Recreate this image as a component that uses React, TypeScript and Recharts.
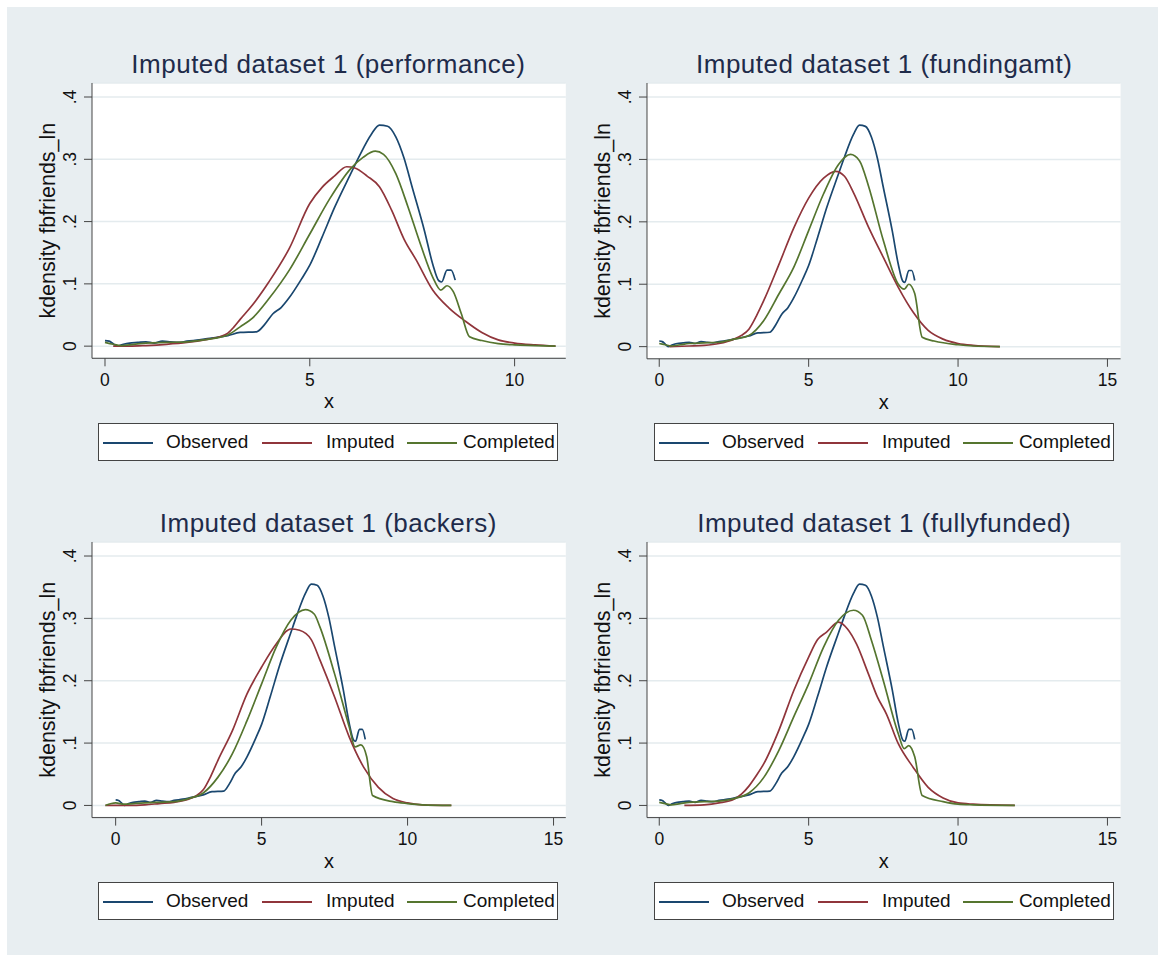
import { LineChart, Line, XAxis, YAxis, CartesianGrid } from "recharts";

const FONT = '"Liberation Sans", Arial, Helvetica, sans-serif';
const BLUE = "#1a476f";
const RED = "#90353b";
const GREEN = "#55752f";

// ---- data ----
const seriesNames = ["Observed", "Imputed", "Completed"];
const yTicks = [0, 0.1, 0.2, 0.3, 0.4];
const xTicksShort = [0, 5, 10];
const xTicksLong = [0, 5, 10, 15];
const panelTitles = [
  "Imputed dataset 1 (performance)",
  "Imputed dataset 1 (fundingamt)",
  "Imputed dataset 1 (backers)",
  "Imputed dataset 1 (fullyfunded)",
];

const observed = [
  [0, 0.009], [0.1, 0.008], [0.2, 0.004], [0.3, 0.0], [0.45, 0.003], [0.6, 0.005],
  [0.8, 0.006], [1.0, 0.007], [1.2, 0.005], [1.4, 0.008], [1.6, 0.007], [1.8, 0.006],
  [2.0, 0.008], [2.3, 0.01], [2.6, 0.013], [3.0, 0.017], [3.3, 0.022], [3.7, 0.023],
  [3.9, 0.035], [4.1, 0.052], [4.3, 0.062], [4.5, 0.078], [4.8, 0.108], [5.0, 0.13],
  [5.3, 0.175], [5.6, 0.222], [6.0, 0.277], [6.2, 0.304], [6.5, 0.34], [6.7, 0.355],
  [6.9, 0.353], [7.1, 0.336], [7.3, 0.302], [7.5, 0.255], [7.8, 0.185], [8.0, 0.132],
  [8.15, 0.105], [8.22, 0.103], [8.35, 0.122], [8.45, 0.122], [8.55, 0.106],
];

const imputedPerformance = [
  [0.2, 0], [0.6, 0], [1.0, 0.001], [1.5, 0.003], [2.0, 0.006], [2.5, 0.011], [2.8, 0.015],
  [3.0, 0.021], [3.15, 0.031], [3.3, 0.043], [3.6, 0.066], [4.0, 0.103], [4.5, 0.157],
  [5.0, 0.229], [5.3, 0.255], [5.6, 0.273], [5.9, 0.288], [6.1, 0.286], [6.4, 0.273],
  [6.7, 0.256], [7.0, 0.218], [7.3, 0.172], [7.6, 0.138], [8.0, 0.09], [8.4, 0.061],
  [8.8, 0.04], [9.2, 0.022], [9.6, 0.01], [10.0, 0.005], [10.5, 0.002], [11.0, 0],
];
const completedPerformance = [
  [0, 0.006], [0.2, 0.003], [0.4, 0.001], [0.7, 0.003], [1.0, 0.005], [1.5, 0.006],
  [2.0, 0.007], [2.5, 0.011], [3.0, 0.018], [3.3, 0.031], [3.6, 0.045], [4.0, 0.076],
  [4.5, 0.122], [5.0, 0.18], [5.5, 0.238], [6.0, 0.285], [6.3, 0.303], [6.6, 0.313],
  [6.8, 0.308], [7.1, 0.277], [7.4, 0.223], [7.7, 0.164], [8.0, 0.111], [8.2, 0.09],
  [8.35, 0.097], [8.5, 0.088], [8.7, 0.052], [8.9, 0.015], [9.2, 0.009], [9.6, 0.004],
  [10.0, 0.002], [10.5, 0.001], [11.0, 0],
];

const imputedFunding = [
  [0.34, 0], [1.0, 0.001], [1.5, 0.002], [2.0, 0.005], [2.5, 0.012], [2.75, 0.018],
  [3.0, 0.028], [3.25, 0.049], [3.5, 0.074], [4.0, 0.131], [4.5, 0.19], [5.0, 0.238],
  [5.5, 0.27], [5.9, 0.281], [6.2, 0.273], [6.5, 0.247], [7.0, 0.192], [7.5, 0.143],
  [8.0, 0.095], [8.5, 0.055], [9.0, 0.026], [9.5, 0.012], [10.0, 0.005], [10.5, 0.002],
  [11.4, 0],
];
const completedFunding = [
  [0, 0.005], [0.2, 0.003], [0.4, 0.001], [0.7, 0.003], [1.0, 0.005], [1.5, 0.006],
  [2.0, 0.007], [2.5, 0.012], [3.0, 0.018], [3.5, 0.042], [4.0, 0.084], [4.5, 0.127],
  [5.0, 0.186], [5.5, 0.245], [6.0, 0.292], [6.4, 0.308], [6.7, 0.298], [7.0, 0.258],
  [7.5, 0.17], [8.0, 0.1], [8.2, 0.092], [8.35, 0.1], [8.55, 0.085], [8.8, 0.015],
  [9.2, 0.009], [10.0, 0.003], [10.5, 0.001], [11.4, 0],
];

const imputedBackers = [
  [-0.35, 0], [0.5, 0], [1.0, 0.001], [1.5, 0.003], [2.0, 0.005], [2.5, 0.01], [2.75, 0.015],
  [3.0, 0.025], [3.25, 0.046], [3.5, 0.072], [4.0, 0.12], [4.5, 0.179], [5.0, 0.222],
  [5.5, 0.259], [6.0, 0.283], [6.3, 0.281], [6.7, 0.266], [7.0, 0.233], [7.5, 0.174],
  [8.0, 0.11], [8.5, 0.061], [9.0, 0.029], [9.5, 0.011], [10.0, 0.004], [10.5, 0.001],
  [11.5, 0],
];
const completedBackers = [
  [-0.35, 0], [0, 0.004], [0.3, 0.002], [0.6, 0.003], [1.0, 0.004], [1.5, 0.005],
  [2.0, 0.006], [2.5, 0.011], [3.0, 0.02], [3.5, 0.045], [4.0, 0.083], [4.5, 0.136],
  [5.0, 0.195], [5.5, 0.254], [6.0, 0.297], [6.5, 0.314], [6.8, 0.307], [7.0, 0.286],
  [7.5, 0.211], [8.0, 0.126], [8.2, 0.094], [8.4, 0.097], [8.6, 0.078], [8.8, 0.016],
  [9.5, 0.006], [10.0, 0.003], [10.5, 0.001], [11.5, 0],
];

const imputedFully = [
  [0.84, 0], [1.5, 0.001], [2.0, 0.004], [2.5, 0.01], [2.75, 0.018], [3.0, 0.031],
  [3.25, 0.048], [3.5, 0.067], [4.0, 0.12], [4.5, 0.184], [5.0, 0.238], [5.3, 0.266],
  [5.6, 0.278], [6.0, 0.294], [6.3, 0.283], [6.6, 0.259], [7.0, 0.211], [7.3, 0.174],
  [7.6, 0.147], [8.0, 0.099], [8.5, 0.061], [9.0, 0.029], [9.5, 0.012], [10.0, 0.004],
  [10.5, 0.002], [11.9, 0],
];
const completedFully = [
  [0, 0.005], [0.2, 0.003], [0.4, 0.001], [0.7, 0.003], [1.0, 0.005], [1.5, 0.006],
  [2.0, 0.007], [2.5, 0.011], [3.0, 0.02], [3.5, 0.045], [4.0, 0.088], [4.5, 0.142],
  [5.0, 0.195], [5.5, 0.254], [6.0, 0.297], [6.5, 0.313], [6.8, 0.305], [7.1, 0.265],
  [7.5, 0.2], [8.0, 0.115], [8.2, 0.091], [8.35, 0.096], [8.55, 0.078], [8.8, 0.016],
  [9.5, 0.006], [10.0, 0.002], [10.5, 0.001], [11.9, 0],
];

const toPts = (arr: number[][]) => arr.map(([x, y]) => ({ x, y }));

// ---- layout: plot rectangle of each panel in page pixels ----
const panels = [
  { title: panelTitles[0], imputed: imputedPerformance, completed: completedPerformance,
    xDomain: [-0.317, 11.25], xTicks: xTicksShort, pl: 91.5, pt: 83, pr: 565.3, pb: 358.3, legendTop: 423 },
  { title: panelTitles[1], imputed: imputedFunding, completed: completedFunding,
    xDomain: [-0.41, 15.44], xTicks: xTicksLong, pl: 647.4, pt: 83, pr: 1121, pb: 358.8, legendTop: 423 },
  { title: panelTitles[2], imputed: imputedBackers, completed: completedBackers,
    xDomain: [-0.81, 15.42], xTicks: xTicksLong, pl: 91.5, pt: 541.7, pr: 565.3, pb: 817.3, legendTop: 882 },
  { title: panelTitles[3], imputed: imputedFully, completed: completedFully,
    xDomain: [-0.41, 15.44], xTicks: xTicksLong, pl: 647.4, pt: 541.7, pr: 1121, pb: 817.3, legendTop: 882 },
];

const fmtY = (v: number) => (v === 0 ? "0" : String(v).replace(/^0\./, "."));

function YTick({ x, y, payload }: any) {
  return (
    <text
      x={x}
      y={y}
      transform={`rotate(-90 ${x} ${y})`}
      textAnchor="middle"
      fontSize={17.5}
      fontFamily={FONT}
      fill="#111"
    >
      {fmtY(payload.value)}
    </text>
  );
}

function LegendBox({ left, top }: { left: number; top: number }) {
  const colors = [BLUE, RED, GREEN];
  const lineX = [4, 163, 308];
  const textX = [67, 227, 364];
  return (
    <div
      style={{
        position: "absolute",
        left,
        top,
        width: 460,
        height: 38,
        boxSizing: "border-box",
        border: "1px solid #444",
        background: "#fff",
        fontFamily: FONT,
        fontSize: 19,
        color: "#111",
      }}
    >
      {seriesNames.map((name, i) => (
        <div key={name}>
          <div
            style={{
              position: "absolute",
              left: lineX[i],
              top: 18,
              width: 50,
              height: 1.7,
              background: colors[i],
            }}
          />
          <div
            style={{
              position: "absolute",
              left: textX[i],
              top: 7,
              lineHeight: "22px",
              whiteSpace: "nowrap",
            }}
          >
            {name}
          </div>
        </div>
      ))}
    </div>
  );
}

function Panel({ p }: { p: (typeof panels)[number] }) {
  const w = p.pr - p.pl;
  const h = p.pb - p.pt;
  const chartW = w + 110;
  const chartH = h + 70;
  return (
    <>
      <div
        style={{
          position: "absolute",
          left: p.pl - 40,
          top: p.pt - 34,
          width: w + 80,
          textAlign: "center",
          fontFamily: FONT,
          fontSize: 26,
          letterSpacing: 0.5,
          lineHeight: "30px",
          color: "#1e2b4a",
          whiteSpace: "nowrap",
        }}
      >
        {p.title}
      </div>
      <div style={{ position: "absolute", left: p.pl - 100, top: p.pt - 10 }}>
        <LineChart
          width={chartW}
          height={chartH}
          margin={{ top: 10, right: 10, left: 40, bottom: 10 }}
        >
          <CartesianGrid vertical={false} stroke="#e4ebee" strokeWidth={1.5} fill="#ffffff" />
          <XAxis
            type="number"
            dataKey="x"
            domain={p.xDomain}
            ticks={p.xTicks}
            allowDataOverflow
            height={50}
            stroke="#444"
            tickSize={8}
            tickMargin={7}
            tick={{ fill: "#111", fontSize: 17.5, fontFamily: FONT }}
            label={{
              value: "x",
              position: "insideBottom",
              offset: 0,
              style: { fill: "#111", fontSize: 20, fontFamily: FONT },
            }}
          />
          <YAxis
            type="number"
            dataKey="y"
            domain={[-0.0195, 0.4225]}
            ticks={yTicks}
            allowDataOverflow
            width={60}
            stroke="#444"
            tickSize={8}
            tickMargin={8}
            tick={<YTick />}
            label={{
              value: "kdensity fbfriends_ln",
              angle: -90,
              position: "insideLeft",
              offset: 15.5,
              style: { textAnchor: "middle", fill: "#111", fontSize: 21.5, fontFamily: FONT },
            }}
          />
          <Line
            data={toPts(observed)}
            dataKey="y"
            name={seriesNames[0]}
            type="monotone"
            stroke={BLUE}
            strokeWidth={1.7}
            dot={false}
            isAnimationActive={false}
          />
          <Line
            data={toPts(p.imputed)}
            dataKey="y"
            name={seriesNames[1]}
            type="monotone"
            stroke={RED}
            strokeWidth={1.7}
            dot={false}
            isAnimationActive={false}
          />
          <Line
            data={toPts(p.completed)}
            dataKey="y"
            name={seriesNames[2]}
            type="monotone"
            stroke={GREEN}
            strokeWidth={1.7}
            dot={false}
            isAnimationActive={false}
          />
        </LineChart>
      </div>
      <LegendBox left={p.pl + 6.5} top={p.legendTop} />
    </>
  );
}

export default function App() {
  return (
    <div
      style={{
        position: "absolute",
        left: 0,
        top: 0,
        width: 1167,
        height: 963,
        background: "#fff",
        overflow: "hidden",
      }}
    >
      <div
        style={{
          position: "absolute",
          left: 7,
          top: 7,
          width: 1151,
          height: 948,
          background: "#e8eef1",
        }}
      />
      {panels.map((p) => (
        <Panel key={p.title} p={p} />
      ))}
    </div>
  );
}
